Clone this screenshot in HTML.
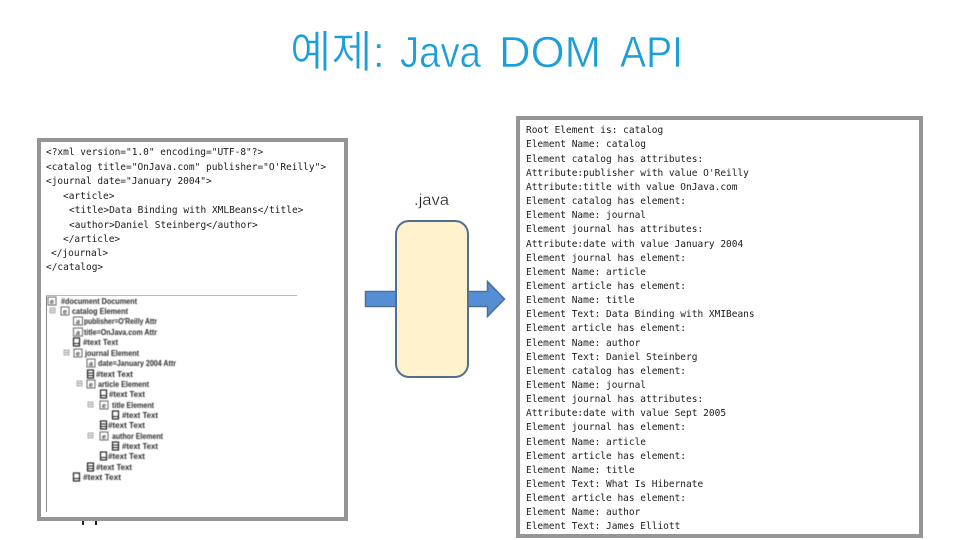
<!DOCTYPE html>
<html lang="ko">
<head>
<meta charset="utf-8">
<title>예제: Java DOM API</title>
<style>
html,body{margin:0;padding:0;background:#fff;width:960px;height:540px;overflow:hidden}
svg{display:block;position:absolute;left:0;top:0}
.m{font-family:"DejaVu Sans Mono","Liberation Mono",monospace;font-size:9.9px;fill:#1c1c1c}
.t{font-family:"Liberation Sans",sans-serif;font-size:8.4px;font-weight:700;fill:#2a2a2a}
.e{font-family:"Liberation Sans",sans-serif;font-size:7px;font-style:italic;font-weight:700;fill:#444;text-anchor:middle}
.soft{filter:blur(.3px)}
.softer{filter:blur(.5px)}
.i{fill:#fff;stroke:#555;stroke-width:.9}
.d{fill:#fff;stroke:#111;stroke-width:1.100}
.b{fill:#e6e6e6;stroke:#999;stroke-width:.8}
.ttl{font-family:"Liberation Sans","Noto Sans CJK KR",sans-serif;font-size:44px;fill:#1c9ed9;stroke:#fff;stroke-width:.6px;paint-order:normal}
</style>
</head>
<body>
<svg width="960" height="540" viewBox="0 0 960 540" xmlns="http://www.w3.org/2000/svg">
<!-- title -->
<g class="ttl">
<text x="290" y="67" textLength="95" lengthAdjust="spacingAndGlyphs">예제:</text>
<text x="400" y="67" textLength="81" lengthAdjust="spacingAndGlyphs">Java</text>
<text x="499" y="67" textLength="102" lengthAdjust="spacingAndGlyphs">DOM</text>
<text x="620" y="67" textLength="63" lengthAdjust="spacingAndGlyphs">API</text>
</g>

<!-- frames -->
<rect x="39" y="140" width="307" height="379" fill="#fff" stroke="#959595" stroke-width="4"/>
<rect x="518" y="118" width="403" height="418" fill="#fff" stroke="#959595" stroke-width="4"/>

<!-- stray ticks -->
<rect x="82" y="521" width="2" height="4" fill="#222"/>
<rect x="95" y="521" width="2" height="4" fill="#222"/>

<!-- xml -->
<g class="soft"><g class="m" transform="translate(46 0) scale(.961 1)">
<text x="0" y="155">&lt;?xml version="1.0" encoding="UTF-8"?&gt;</text>
<text x="0" y="170">&lt;catalog title="OnJava.com" publisher="O'Reilly"&gt;</text>
<text x="0" y="184">&lt;journal date="January 2004"&gt;</text>
<text x="17.700" y="199">&lt;article&gt;</text>
<text x="24" y="213">&lt;title&gt;Data Binding with XMLBeans&lt;/title&gt;</text>
<text x="24" y="228">&lt;author&gt;Daniel Steinberg&lt;/author&gt;</text>
<text x="17.700" y="242">&lt;/article&gt;</text>
<text x="5.200" y="256">&lt;/journal&gt;</text>
<text x="0" y="270">&lt;/catalog&gt;</text>
</g></g>

<!-- tree -->
<path d="M46.5 512V295.5H297" fill="none" stroke="#bbb" stroke-width="1"/>
<path d="M46.5 512V296" fill="none" stroke="#888" stroke-width="1"/>
<g class="softer">
<g>
<rect class="i" x="48" y="297" width="8" height="8"/>
<rect class="b" x="50" y="308" width="5" height="5"/>
<rect class="i" x="61" y="307" width="8" height="8"/>
<rect class="i" x="73.500" y="317" width="9" height="8"/>
<rect class="i" x="73.500" y="328" width="9" height="8"/>
<rect class="d" x="73.500" y="338" width="6" height="8"/>
<rect class="b" x="64" y="350" width="5" height="5"/>
<rect class="i" x="74" y="349" width="8" height="8"/>
<rect class="i" x="87" y="359" width="8" height="8"/>
<rect class="d" x="87.500" y="370" width="6" height="8"/>
<rect class="b" x="77" y="381" width="5" height="5"/>
<rect class="i" x="87" y="380" width="8" height="8"/>
<rect class="d" x="100.500" y="390" width="6" height="8"/>
<rect class="b" x="88" y="402" width="5" height="5"/>
<rect class="i" x="100" y="401" width="8" height="8"/>
<rect class="d" x="112.500" y="411" width="6" height="8"/>
<rect class="d" x="100.500" y="421" width="6" height="8"/>
<rect class="b" x="88" y="433" width="5" height="5"/>
<rect class="i" x="100" y="432" width="8" height="8"/>
<rect class="d" x="112.500" y="442" width="6" height="8"/>
<rect class="d" x="100.500" y="452" width="6" height="8"/>
<rect class="d" x="87.500" y="463" width="6" height="8"/>
<rect class="d" x="73.500" y="473" width="6" height="8"/>
<path fill="none" stroke="#222" stroke-width=".9" d="M74 343.500h5M88 375.500h5M101 395.500h5M113 416.500h5M101 426.500h5M113 447.500h5M101 457.500h5M88 468.500h5M74 478.500h5M88 373h5M101 424h5M113 445h5M88 466h5"/>
<path fill="none" stroke="#888" stroke-width=".8" d="M51 310.500h3M65 352.500h3M78 383.500h3M89 404.500h3M89 435.500h3"/>
</g>
<g class="e">
<text x="52" y="304">e</text><text x="65" y="314">e</text><text x="78" y="324">a</text><text x="78" y="335">a</text><text x="78" y="356">e</text><text x="91" y="366">a</text><text x="91" y="387">e</text><text x="104" y="408">e</text><text x="104" y="439">e</text>
</g>
<g class="t">
<text x="61" y="304" textLength="76" lengthAdjust="spacingAndGlyphs">#document Document</text>
<text x="72" y="314" textLength="56" lengthAdjust="spacingAndGlyphs">catalog Element</text>
<text x="84" y="324" textLength="73" lengthAdjust="spacingAndGlyphs">publisher=O'Reilly Attr</text>
<text x="84" y="335" textLength="73" lengthAdjust="spacingAndGlyphs">title=OnJava.com Attr</text>
<text x="83" y="345" textLength="35" lengthAdjust="spacingAndGlyphs">#text Text</text>
<text x="85" y="356" textLength="54" lengthAdjust="spacingAndGlyphs">journal Element</text>
<text x="98" y="366" textLength="78" lengthAdjust="spacingAndGlyphs">date=January 2004 Attr</text>
<text x="96" y="377" textLength="37" lengthAdjust="spacingAndGlyphs">#text Text</text>
<text x="98" y="387" textLength="51" lengthAdjust="spacingAndGlyphs">article Element</text>
<text x="109" y="397" textLength="36" lengthAdjust="spacingAndGlyphs">#text Text</text>
<text x="112" y="408" textLength="42" lengthAdjust="spacingAndGlyphs">title Element</text>
<text x="122" y="418" textLength="36" lengthAdjust="spacingAndGlyphs">#text Text</text>
<text x="108" y="428" textLength="37" lengthAdjust="spacingAndGlyphs">#text Text</text>
<text x="112" y="439" textLength="51" lengthAdjust="spacingAndGlyphs">author Element</text>
<text x="122" y="449" textLength="36" lengthAdjust="spacingAndGlyphs">#text Text</text>
<text x="108" y="459" textLength="37" lengthAdjust="spacingAndGlyphs">#text Text</text>
<text x="96" y="470" textLength="36" lengthAdjust="spacingAndGlyphs">#text Text</text>
<text x="83" y="480" textLength="38" lengthAdjust="spacingAndGlyphs">#text Text</text>
</g>
</g>

<!-- centre -->
<text x="414" y="205" font-family="'Liberation Sans',sans-serif" font-size="15.500" fill="#222" stroke="#fff" stroke-width=".25" textLength="35" lengthAdjust="spacingAndGlyphs">.java</text>
<rect x="365.500" y="291.500" width="31" height="15" fill="#558ed5" stroke="#4f6f8f" stroke-width="1.500"/>
<path d="M468 291.500H487.500V281.500L504.500 299L487.500 316.500V306.500H468Z" fill="#558ed5" stroke="#4f6f8f" stroke-width="1.500"/>
<rect x="396" y="221" width="72" height="156" rx="13" ry="13" fill="#fff2cc" stroke="#4f6f8f" stroke-width="2"/>

<!-- output -->
<g class="soft"><g class="m" transform="translate(526 0) scale(.961 1)">
<text x="0" y="133">Root Element is: catalog</text>
<text x="0" y="147">Element Name: catalog</text>
<text x="0" y="162">Element catalog has attributes:</text>
<text x="0" y="176">Attribute:publisher with value O'Reilly</text>
<text x="0" y="190">Attribute:title with value OnJava.com</text>
<text x="0" y="204">Element catalog has element:</text>
<text x="0" y="218">Element Name: journal</text>
<text x="0" y="232">Element journal has attributes:</text>
<text x="0" y="247">Attribute:date with value January 2004</text>
<text x="0" y="261">Element journal has element:</text>
<text x="0" y="275">Element Name: article</text>
<text x="0" y="289">Element article has element:</text>
<text x="0" y="303">Element Name: title</text>
<text x="0" y="317">Element Text: Data Binding with XMIBeans</text>
<text x="0" y="331">Element article has element:</text>
<text x="0" y="346">Element Name: author</text>
<text x="0" y="360">Element Text: Daniel Steinberg</text>
<text x="0" y="374">Element catalog has element:</text>
<text x="0" y="388">Element Name: journal</text>
<text x="0" y="402">Element journal has attributes:</text>
<text x="0" y="416">Attribute:date with value Sept 2005</text>
<text x="0" y="430">Element journal has element:</text>
<text x="0" y="445">Element Name: article</text>
<text x="0" y="459">Element article has element:</text>
<text x="0" y="473">Element Name: title</text>
<text x="0" y="487">Element Text: What Is Hibernate</text>
<text x="0" y="501">Element article has element:</text>
<text x="0" y="515">Element Name: author</text>
<text x="0" y="529">Element Text: James Elliott</text>
</g></g>
</svg>
</body>
</html>
